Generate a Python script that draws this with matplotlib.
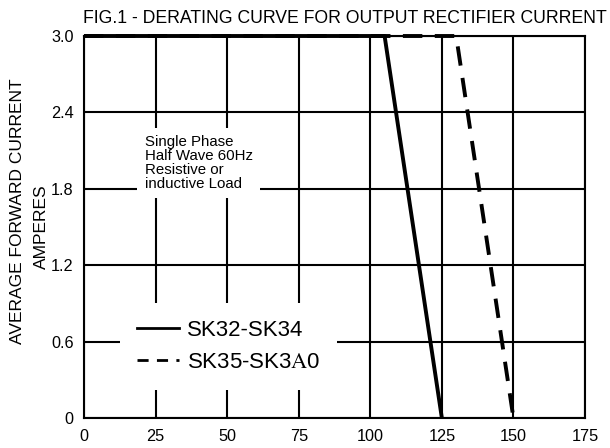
import matplotlib
matplotlib.use("Agg")
import matplotlib.pyplot as plt
from matplotlib.lines import Line2D

plt.rcParams['font.family'] = ['Liberation Sans', 'DejaVu Sans']
plt.rcParams['mathtext.fontset'] = 'stix'

# Data
solid_x = [0, 105, 125]
solid_y = [3.0, 3.0, 0.0]
dash_x = [0, 130, 150]
dash_y = [3.0, 3.0, 0.0]
xticks = [0, 25, 50, 75, 100, 125, 150, 175]
yticks = [0, 0.6, 1.2, 1.8, 2.4, 3.0]
ytick_labels = ["0", "0.6", "1.2", "1.8", "2.4", "3.0"]
labels = ["SK32-SK34", "SK35-SK3$\\mathrm{A}$0"]

fig = plt.figure(figsize=(6.1, 4.48), dpi=100)
ax = fig.add_axes([84/610, 1-418/448, 501/610, 382/448])
ax.set_xlim(0, 175)
ax.set_ylim(0, 3.0)
ax.set_xticks(xticks)
ax.set_yticks(yticks)
ax.set_yticklabels(ytick_labels)
ax.tick_params(axis='y', length=0, pad=7.5, labelsize=11.7)
ax.tick_params(axis='x', length=0, pad=8, labelsize=11.7)
ax.grid(True, color='black', lw=1.5, zorder=0)
ax.set_axisbelow(True)
for s in ax.spines.values():
    s.set_linewidth(1.5)
    s.set_color('black')

ax.plot(dash_x, dash_y, color='black', lw=2.8, dashes=(5, 3.2), clip_on=False, zorder=3)
ax.plot(solid_x, solid_y, color='black', lw=2.8, clip_on=False, zorder=4,
        solid_capstyle='butt')

ax.text(21.3, 2.22, "Single Phase\nHalf Wave 60Hz\nResistive or\ninductive Load",
        ha='left', va='top', fontsize=10.8, linespacing=0.98, zorder=2,
        bbox=dict(boxstyle='square,pad=0.5', fc='white', ec='none'))

handles = [Line2D([], [], color='black', lw=2.0),
           Line2D([], [], color='black', lw=2.0, dashes=(4, 3))]
leg = ax.legend(handles, labels, loc='upper left', bbox_to_anchor=(0.072, 0.30),
                borderaxespad=0, fontsize=16, frameon=True, fancybox=False,
                framealpha=1, facecolor='white', edgecolor='none',
                handlelength=1.9, handletextpad=0.36, labelspacing=0.5,
                borderpad=0.75)
leg.set_zorder(2)

fig.text(83/610, 1-23/448, "FIG.1 - DERATING CURVE FOR OUTPUT RECTIFIER CURRENT",
         ha='left', va='baseline', fontsize=12.7)
fig.text(17.7/610, 1-211/448, "AVERAGE FORWARD CURRENT", rotation=90,
         ha='center', va='center', fontsize=12.5)
fig.text(41/610, 1-227/448, "AMPERES", rotation=90,
         ha='center', va='center', fontsize=12.5)

fig.savefig("out.png", dpi=100)
